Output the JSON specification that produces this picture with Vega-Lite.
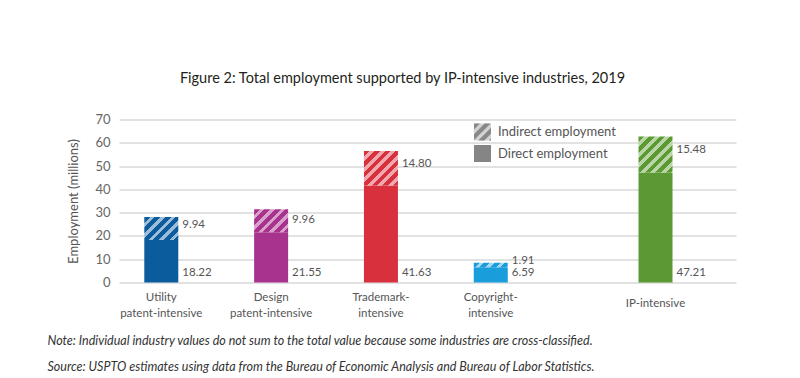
{
  "$schema": "https://vega.github.io/schema/vega-lite/v6.json",
  "width": 617,
  "height": 163,
  "autosize": {"type": "none"},
  "padding": {"left": 119, "top": 119.5, "right": 64, "bottom": 95.5},
  "background": "white",
  "config": {"view": {"stroke": null}, "font": "Lato", "axis": {"labelFont": "Lato", "titleFont": "Lato"}},
  "title": {"text": "Figure 2: Total employment supported by IP-intensive industries, 2019", "font": "Lato", "fontSize": 14.5, "fontWeight": "normal", "color": "#231f20", "anchor": "middle", "dx": -25, "offset": 27},
  "data": {"values": [
    {"industry": "Utility patent-intensive", "type": "Direct employment", "value": 18.22},
    {"industry": "Utility patent-intensive", "type": "Indirect employment", "value": 9.94},
    {"industry": "Design patent-intensive", "type": "Direct employment", "value": 21.55},
    {"industry": "Design patent-intensive", "type": "Indirect employment", "value": 9.96},
    {"industry": "Trademark-intensive", "type": "Direct employment", "value": 41.63},
    {"industry": "Trademark-intensive", "type": "Indirect employment", "value": 14.80},
    {"industry": "Copyright-intensive", "type": "Direct employment", "value": 6.59},
    {"industry": "Copyright-intensive", "type": "Indirect employment", "value": 1.91},
    {"industry": "IP-intensive", "type": "Direct employment", "value": 47.21},
    {"industry": "IP-intensive", "type": "Indirect employment", "value": 15.48}
  ]},
  "encoding": {
    "x": {"field": "industry", "type": "nominal",
      "scale": {"domain": ["Utility patent-intensive", "_a", "Design patent-intensive", "_b", "Trademark-intensive", "_c", "Copyright-intensive", "_d", "_e", "IP-intensive"], "paddingInner": 0, "paddingOuter": 0.618, "align": 0.2186},
      "axis": {"labelExpr": "indexof(datum.value,'_')==0 ? '' : datum.value=='IP-intensive' ? 'IP-intensive' : indexof(datum.value,' ')>0 ? split(datum.value,' ') : [replace(datum.value,'-intensive','-'),'intensive']",
        "labelAngle": 0, "labelFontSize": 11.5, "labelColor": "#555", "labelBaseline": "middle", "labelLineHeight": 16,
        "labelPadding": {"condition": {"test": "datum.value == 'IP-intensive'", "value": 21}, "value": 15},
        "labelOverlap": false, "ticks": false, "domain": false, "grid": false,
        "title": ["Note: Individual industry values do not sum to the total value because some industries are cross-classified.", "Source: USPTO estimates using data from the Bureau of Economic Analysis and Bureau of Labor Statistics."],
        "titleFontStyle": "italic", "titleFontWeight": "normal", "titleFontSize": 12.5, "titleColor": "#333", "titleAnchor": "start", "titleAlign": "left", "titleX": -72, "titleY": 52, "titleBaseline": "top", "titleLineHeight": 26}},
    "y": {"field": "value", "type": "quantitative", "stack": "zero",
      "scale": {"domain": [0, 70], "nice": false},
      "axis": {"values": [0, 10, 20, 30, 40, 50, 60, 70], "title": "Employment (millions)", "titleFontSize": 13, "titleFontWeight": "normal", "titleColor": "#555", "titlePadding": 14, "labelFontSize": 13, "labelColor": "#666", "labelPadding": 9, "ticks": false, "domain": false, "gridColor": "#d9d9d9", "gridWidth": 1.5}},
    "detail": {"field": "type"},
    "order": {"field": "type", "sort": "ascending"}
  },
  "layer": [
    {"transform": [{"filter": "datum.industry=='Utility patent-intensive'"}],
     "layer": [
      {"mark": {"type": "bar", "width": 34},
       "encoding": {"fill": {"condition": {"test": "datum.type=='Direct employment'", "value": "#0a5c9c"},
         "value": {"gradient": "linear", "x1": 0, "y1": 0, "x2": 1.688, "y2": 1.149, "stops": [
          {"offset": 0, "color": "#0a5c9c"}, {"offset": 0.069, "color": "#0a5c9c"}, {"offset": 0.069, "color": "#9dbcd9"}, {"offset": 0.125, "color": "#9dbcd9"},
          {"offset": 0.125, "color": "#0a5c9c"}, {"offset": 0.194, "color": "#0a5c9c"}, {"offset": 0.194, "color": "#9dbcd9"}, {"offset": 0.25, "color": "#9dbcd9"},
          {"offset": 0.25, "color": "#0a5c9c"}, {"offset": 0.319, "color": "#0a5c9c"}, {"offset": 0.319, "color": "#9dbcd9"}, {"offset": 0.375, "color": "#9dbcd9"},
          {"offset": 0.375, "color": "#0a5c9c"}, {"offset": 0.444, "color": "#0a5c9c"}, {"offset": 0.444, "color": "#9dbcd9"}, {"offset": 0.5, "color": "#9dbcd9"},
          {"offset": 0.5, "color": "#0a5c9c"}, {"offset": 0.569, "color": "#0a5c9c"}, {"offset": 0.569, "color": "#9dbcd9"}, {"offset": 0.625, "color": "#9dbcd9"},
          {"offset": 0.625, "color": "#0a5c9c"}, {"offset": 0.694, "color": "#0a5c9c"}, {"offset": 0.694, "color": "#9dbcd9"}, {"offset": 0.75, "color": "#9dbcd9"},
          {"offset": 0.75, "color": "#0a5c9c"}, {"offset": 0.819, "color": "#0a5c9c"}, {"offset": 0.819, "color": "#9dbcd9"}, {"offset": 0.875, "color": "#9dbcd9"},
          {"offset": 0.875, "color": "#0a5c9c"}, {"offset": 0.944, "color": "#0a5c9c"}, {"offset": 0.944, "color": "#9dbcd9"}, {"offset": 1, "color": "#9dbcd9"}]}}}},
      {"mark": {"type": "text", "align": "left", "baseline": "middle", "dx": 21, "dy": 8, "fontSize": 11.5, "color": "#555"},
       "encoding": {"text": {"condition": {"test": "datum.type=='Indirect employment'", "field": "value", "type": "quantitative", "format": ".2f"}, "value": ""}}}
     ]},
    {"transform": [{"filter": "datum.industry=='Design patent-intensive'"}],
     "layer": [
      {"mark": {"type": "bar", "width": 34},
       "encoding": {"fill": {"condition": {"test": "datum.type=='Direct employment'", "value": "#a7338f"},
         "value": {"gradient": "linear", "x1": 0, "y1": 0, "x2": 1.686, "y2": 1.15, "stops": [
          {"offset": 0, "color": "#a7338f"}, {"offset": 0.069, "color": "#a7338f"}, {"offset": 0.069, "color": "#d8a0cb"}, {"offset": 0.125, "color": "#d8a0cb"},
          {"offset": 0.125, "color": "#a7338f"}, {"offset": 0.194, "color": "#a7338f"}, {"offset": 0.194, "color": "#d8a0cb"}, {"offset": 0.25, "color": "#d8a0cb"},
          {"offset": 0.25, "color": "#a7338f"}, {"offset": 0.319, "color": "#a7338f"}, {"offset": 0.319, "color": "#d8a0cb"}, {"offset": 0.375, "color": "#d8a0cb"},
          {"offset": 0.375, "color": "#a7338f"}, {"offset": 0.444, "color": "#a7338f"}, {"offset": 0.444, "color": "#d8a0cb"}, {"offset": 0.5, "color": "#d8a0cb"},
          {"offset": 0.5, "color": "#a7338f"}, {"offset": 0.569, "color": "#a7338f"}, {"offset": 0.569, "color": "#d8a0cb"}, {"offset": 0.625, "color": "#d8a0cb"},
          {"offset": 0.625, "color": "#a7338f"}, {"offset": 0.694, "color": "#a7338f"}, {"offset": 0.694, "color": "#d8a0cb"}, {"offset": 0.75, "color": "#d8a0cb"},
          {"offset": 0.75, "color": "#a7338f"}, {"offset": 0.819, "color": "#a7338f"}, {"offset": 0.819, "color": "#d8a0cb"}, {"offset": 0.875, "color": "#d8a0cb"},
          {"offset": 0.875, "color": "#a7338f"}, {"offset": 0.944, "color": "#a7338f"}, {"offset": 0.944, "color": "#d8a0cb"}, {"offset": 1, "color": "#d8a0cb"}]}}}},
      {"mark": {"type": "text", "align": "left", "baseline": "middle", "dx": 21, "dy": 10.5, "fontSize": 11.5, "color": "#555"},
       "encoding": {"text": {"condition": {"test": "datum.type=='Indirect employment'", "field": "value", "type": "quantitative", "format": ".2f"}, "value": ""}}}
     ]},
    {"transform": [{"filter": "datum.industry=='Trademark-intensive'"}],
     "layer": [
      {"mark": {"type": "bar", "width": 34},
       "encoding": {"fill": {"condition": {"test": "datum.type=='Direct employment'", "value": "#d9303e"},
         "value": {"gradient": "linear", "x1": 0, "y1": 0, "x2": 1.219, "y2": 1.235, "stops": [
          {"offset": 0, "color": "#d9303e"}, {"offset": 0.069, "color": "#d9303e"}, {"offset": 0.069, "color": "#f0a8ae"}, {"offset": 0.125, "color": "#f0a8ae"},
          {"offset": 0.125, "color": "#d9303e"}, {"offset": 0.194, "color": "#d9303e"}, {"offset": 0.194, "color": "#f0a8ae"}, {"offset": 0.25, "color": "#f0a8ae"},
          {"offset": 0.25, "color": "#d9303e"}, {"offset": 0.319, "color": "#d9303e"}, {"offset": 0.319, "color": "#f0a8ae"}, {"offset": 0.375, "color": "#f0a8ae"},
          {"offset": 0.375, "color": "#d9303e"}, {"offset": 0.444, "color": "#d9303e"}, {"offset": 0.444, "color": "#f0a8ae"}, {"offset": 0.5, "color": "#f0a8ae"},
          {"offset": 0.5, "color": "#d9303e"}, {"offset": 0.569, "color": "#d9303e"}, {"offset": 0.569, "color": "#f0a8ae"}, {"offset": 0.625, "color": "#f0a8ae"},
          {"offset": 0.625, "color": "#d9303e"}, {"offset": 0.694, "color": "#d9303e"}, {"offset": 0.694, "color": "#f0a8ae"}, {"offset": 0.75, "color": "#f0a8ae"},
          {"offset": 0.75, "color": "#d9303e"}, {"offset": 0.819, "color": "#d9303e"}, {"offset": 0.819, "color": "#f0a8ae"}, {"offset": 0.875, "color": "#f0a8ae"},
          {"offset": 0.875, "color": "#d9303e"}, {"offset": 0.944, "color": "#d9303e"}, {"offset": 0.944, "color": "#f0a8ae"}, {"offset": 1, "color": "#f0a8ae"}]}}}},
      {"mark": {"type": "text", "align": "left", "baseline": "middle", "dx": 21, "dy": 13, "fontSize": 11.5, "color": "#555"},
       "encoding": {"text": {"condition": {"test": "datum.type=='Indirect employment'", "field": "value", "type": "quantitative", "format": ".2f"}, "value": ""}}}
     ]},
    {"transform": [{"filter": "datum.industry=='Copyright-intensive'"}],
     "layer": [
      {"mark": {"type": "bar", "width": 34},
       "encoding": {"fill": {"condition": {"test": "datum.type=='Direct employment'", "value": "#199ddb"},
         "value": {"gradient": "linear", "x1": 0, "y1": 0, "x2": 2.429, "y2": 0.318, "stops": [
          {"offset": 0, "color": "#199ddb"}, {"offset": 0.069, "color": "#199ddb"}, {"offset": 0.069, "color": "#a5d7f1"}, {"offset": 0.125, "color": "#a5d7f1"},
          {"offset": 0.125, "color": "#199ddb"}, {"offset": 0.194, "color": "#199ddb"}, {"offset": 0.194, "color": "#a5d7f1"}, {"offset": 0.25, "color": "#a5d7f1"},
          {"offset": 0.25, "color": "#199ddb"}, {"offset": 0.319, "color": "#199ddb"}, {"offset": 0.319, "color": "#a5d7f1"}, {"offset": 0.375, "color": "#a5d7f1"},
          {"offset": 0.375, "color": "#199ddb"}, {"offset": 0.444, "color": "#199ddb"}, {"offset": 0.444, "color": "#a5d7f1"}, {"offset": 0.5, "color": "#a5d7f1"},
          {"offset": 0.5, "color": "#199ddb"}, {"offset": 0.569, "color": "#199ddb"}, {"offset": 0.569, "color": "#a5d7f1"}, {"offset": 0.625, "color": "#a5d7f1"},
          {"offset": 0.625, "color": "#199ddb"}, {"offset": 0.694, "color": "#199ddb"}, {"offset": 0.694, "color": "#a5d7f1"}, {"offset": 0.75, "color": "#a5d7f1"},
          {"offset": 0.75, "color": "#199ddb"}, {"offset": 0.819, "color": "#199ddb"}, {"offset": 0.819, "color": "#a5d7f1"}, {"offset": 0.875, "color": "#a5d7f1"},
          {"offset": 0.875, "color": "#199ddb"}, {"offset": 0.944, "color": "#199ddb"}, {"offset": 0.944, "color": "#a5d7f1"}, {"offset": 1, "color": "#a5d7f1"}]}}}},
      {"mark": {"type": "text", "align": "left", "baseline": "middle", "dx": 21, "dy": -2, "fontSize": 11.5, "color": "#555"},
       "encoding": {"text": {"condition": {"test": "datum.type=='Indirect employment'", "field": "value", "type": "quantitative", "format": ".2f"}, "value": ""}}}
     ]},
    {"transform": [{"filter": "datum.industry=='IP-intensive'"}],
     "layer": [
      {"mark": {"type": "bar", "width": 34},
       "encoding": {"fill": {"condition": {"test": "datum.type=='Direct employment'", "value": "#5b9a33"},
         "value": {"gradient": "linear", "x1": 0, "y1": 0, "x2": 1.163, "y2": 1.233, "stops": [
          {"offset": 0, "color": "#5b9a33"}, {"offset": 0.069, "color": "#5b9a33"}, {"offset": 0.069, "color": "#bad5a6"}, {"offset": 0.125, "color": "#bad5a6"},
          {"offset": 0.125, "color": "#5b9a33"}, {"offset": 0.194, "color": "#5b9a33"}, {"offset": 0.194, "color": "#bad5a6"}, {"offset": 0.25, "color": "#bad5a6"},
          {"offset": 0.25, "color": "#5b9a33"}, {"offset": 0.319, "color": "#5b9a33"}, {"offset": 0.319, "color": "#bad5a6"}, {"offset": 0.375, "color": "#bad5a6"},
          {"offset": 0.375, "color": "#5b9a33"}, {"offset": 0.444, "color": "#5b9a33"}, {"offset": 0.444, "color": "#bad5a6"}, {"offset": 0.5, "color": "#bad5a6"},
          {"offset": 0.5, "color": "#5b9a33"}, {"offset": 0.569, "color": "#5b9a33"}, {"offset": 0.569, "color": "#bad5a6"}, {"offset": 0.625, "color": "#bad5a6"},
          {"offset": 0.625, "color": "#5b9a33"}, {"offset": 0.694, "color": "#5b9a33"}, {"offset": 0.694, "color": "#bad5a6"}, {"offset": 0.75, "color": "#bad5a6"},
          {"offset": 0.75, "color": "#5b9a33"}, {"offset": 0.819, "color": "#5b9a33"}, {"offset": 0.819, "color": "#bad5a6"}, {"offset": 0.875, "color": "#bad5a6"},
          {"offset": 0.875, "color": "#5b9a33"}, {"offset": 0.944, "color": "#5b9a33"}, {"offset": 0.944, "color": "#bad5a6"}, {"offset": 1, "color": "#bad5a6"}]}}}},
      {"mark": {"type": "text", "align": "left", "baseline": "middle", "dx": 21, "dy": 13, "fontSize": 11.5, "color": "#555"},
       "encoding": {"text": {"condition": {"test": "datum.type=='Indirect employment'", "field": "value", "type": "quantitative", "format": ".2f"}, "value": ""}}}
     ]},
    {"transform": [{"filter": "datum.type=='Direct employment'"}],
     "mark": {"type": "text", "align": "left", "baseline": "middle", "dx": 21, "dy": -9.5, "fontSize": 11.5, "color": "#555"},
     "encoding": {"y": {"datum": 0, "type": "quantitative"}, "text": {"field": "value", "type": "quantitative", "format": ".2f"}}},
    {"mark": {"type": "text", "text": ""},
     "encoding": {"fill": {"field": "type", "type": "nominal",
       "scale": {"domain": ["Indirect employment", "Direct employment"], "range": ["#d2d2d2", "#858585"]},
       "legend": {"orient": "none", "legendX": 355, "legendY": 4, "title": null, "symbolType": "square", "symbolSize": 289, "symbolStrokeWidth": 0, "labelFont": "Lato", "labelFontSize": 13, "labelColor": "#555", "labelOffset": 7, "rowPadding": 4.5, "padding": 0, "direction": "vertical", "zindex": 0}}}},
    {"transform": [{"filter": "datum.type=='Indirect employment'"}],
     "mark": {"type": "point", "size": 0, "filled": true, "color": "#888888", "strokeWidth": 0},
     "encoding": {"shape": {"field": "type", "type": "nominal",
       "scale": {"domain": ["Indirect employment"], "range": ["M-1,-1L-0.3,-1L-1,-0.3Z M0.25,-1L0.95,-1L-1,0.95L-1,0.25Z M1,-0.5L1,0.2L0.2,1L-0.5,1Z M1,0.75L1,1L0.75,1Z"]},
       "legend": {"orient": "none", "legendX": 355, "legendY": 4, "title": null, "symbolSize": 289, "symbolStrokeWidth": 0, "symbolFillColor": "#888888", "symbolOpacity": 1, "labelFont": "Lato", "labelFontSize": 13, "labelColor": "transparent", "labelOffset": 7, "rowPadding": 4.5, "padding": 0, "direction": "vertical", "zindex": 1}}}}
  ]
}
